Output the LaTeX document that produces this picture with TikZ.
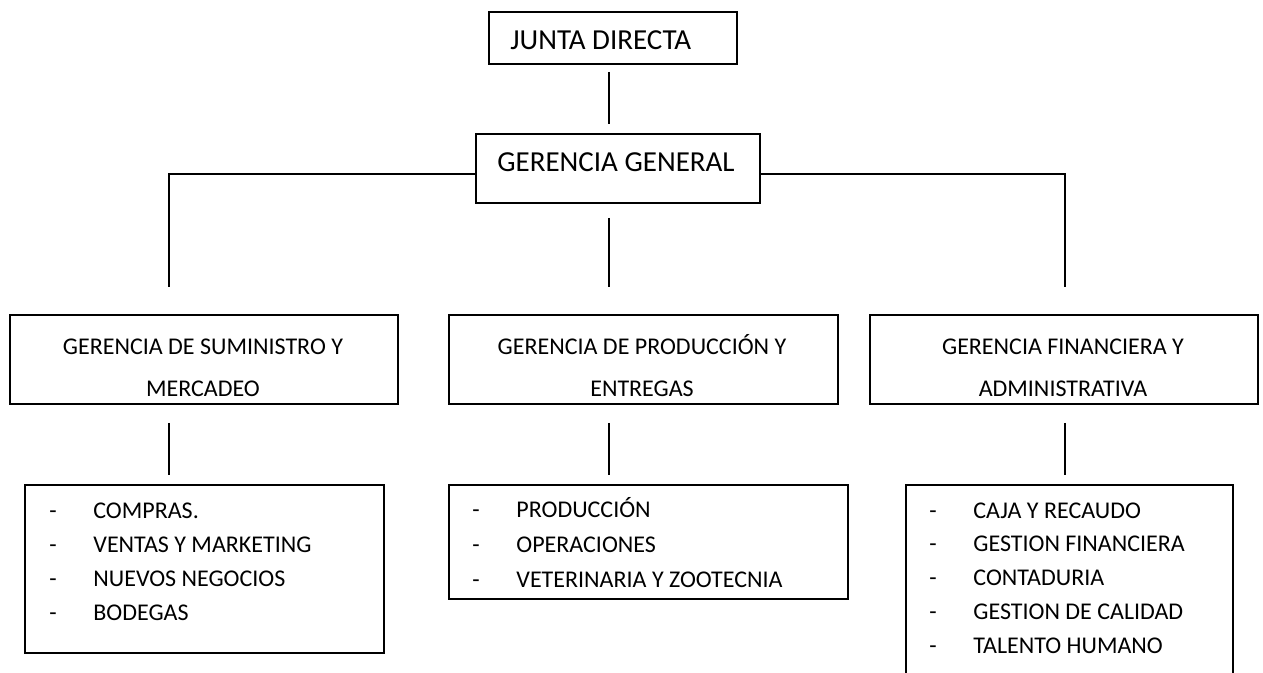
\documentclass[tikz,border=0pt]{standalone}
\usepackage{fontspec}
\setmainfont{Carlito}
\usetikzlibrary{positioning}
\tikzset{
  caja/.style 2 args={draw, line width=1pt, inner sep=0pt, anchor=north west, minimum width=#1*0.5pt, minimum height=#2*0.5pt},
  titulo/.style={inner sep=0pt, font=\fontsize{14.5}{17}\selectfont},
  gerencia/.style={inner sep=0pt, align=center, anchor=base, font=\fontsize{12}{21}\selectfont},
  area/.style={inner sep=0pt, anchor=base west, font=\fontsize{12}{14}\selectfont},
  linea/.style={line width=1pt}
}
\begin{document}
\begin{tikzpicture}[x=0.5pt,y=-0.5pt]
\clip (0,0) rectangle (1263,673);

\node[caja={248}{52}] (jd) at (488,11) {};
\node[titulo, anchor=base west] (jdt) at (510,50) {JUNTA DIRECTA};
\node[caja={284}{69}] (gg) at (475,133) {};
\node[titulo, anchor=base] (ggt) at (616,172) {GERENCIA GENERAL};

\node[caja={388}{89}] (sum) at (9,314) {};
\node[caja={389}{89}] (prod) at (448,314) {};
\node[caja={388}{89}] (fin) at (869,314) {};
\node[gerencia] (sumt) at (203,397) {GERENCIA DE SUMINISTRO Y\\MERCADEO};
\node[gerencia] (prodt) at (642,397) {GERENCIA DE PRODUCCIÓN Y\\ENTREGAS};
\node[gerencia] (fint) at (1063,397) {GERENCIA FINANCIERA Y\\ADMINISTRATIVA};

\node[caja={359}{168}] (lsum) at (24,484) {};
\node[caja={399}{114}] (lprod) at (448,484) {};
\node[caja={327}{220}] (lfin) at (905,484) {};
\foreach \t [count=\i from 0] in {COMPRAS., VENTAS Y MARKETING, NUEVOS NEGOCIOS, BODEGAS}
  \node[area] (lsum\i) at (49,518+34.3*\i) {\makebox[22pt][l]{-}\t};
\foreach \t [count=\i from 0] in {PRODUCCIÓN, OPERACIONES, VETERINARIA Y ZOOTECNIA}
  \node[area] (lprod\i) at (472,517+35*\i) {\makebox[22pt][l]{-}\t};
\foreach \t [count=\i from 0] in {CAJA Y RECAUDO, GESTION FINANCIERA, CONTADURIA, GESTION DE CALIDAD, TALENTO HUMANO}
  \node[area] (lfin\i) at (929,518+33.8*\i) {\makebox[22pt][l]{-}\t};

\coordinate (c1) at (609,72);
\coordinate (c2) at (609,124);
\draw[linea] (c1) -- (c2);
\coordinate (h) at (0,174);
\coordinate (m) at (609,218);
\coordinate (d1) at (169,287);
\coordinate (d2) at (609,287);
\coordinate (d3) at (1065,287);
\draw[linea] (gg.west |- h) -| (d1);
\draw[linea] (gg.east |- h) -| (d3);
\draw[linea] (m) -- (d2);
\foreach \x [count=\i] in {169,609,1065}
  {
  \coordinate (t\i) at (\x,423);
  \coordinate (b\i) at (\x,475);
  \draw[linea] (t\i) -- (b\i);
  }
\end{tikzpicture}
\end{document}
